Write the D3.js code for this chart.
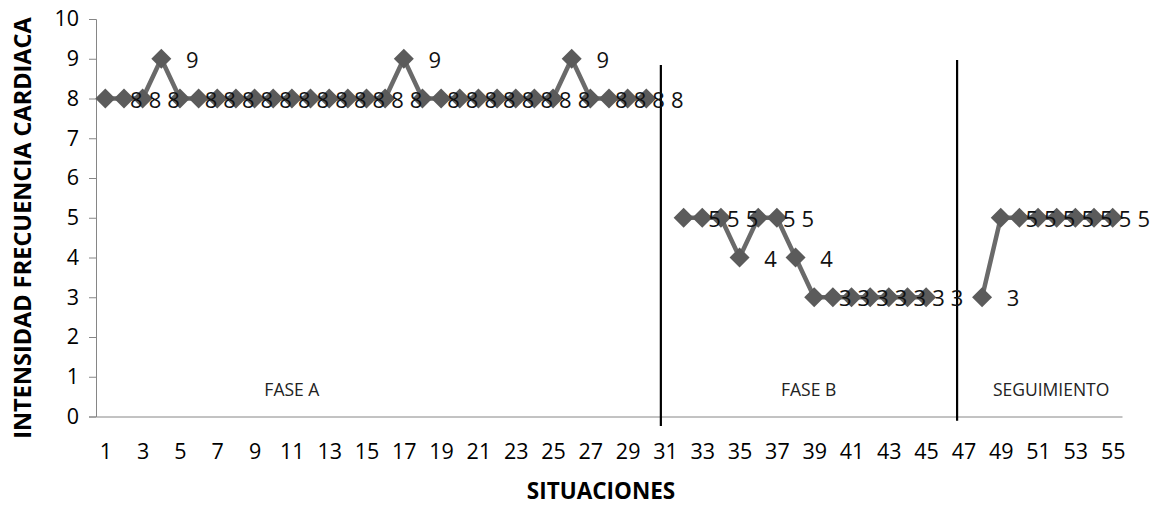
<!DOCTYPE html>
<html>
<head>
<meta charset="utf-8">
<script src="https://cdn.jsdelivr.net/npm/d3@7"></script>
<style>
  html, body { margin: 0; padding: 0; background: #fff; }
  svg { display: block; font-family: "Open Sans", "Liberation Sans", sans-serif; }
</style>
</head>
<body>
<svg id="chart" width="1150" height="506"></svg>
<script>
// Heart-rate intensity per situation, split into three phases
const situations = d3.range(1, 56);                 // x categories 1..55
const xTickLabels = situations.filter(d => d % 2 === 1);
const yTicks = [0, 1, 2, 3, 4, 5, 6, 7, 8, 9, 10];

const faseAStart = 1;
const faseA = [8, 8, 8, 9, 8, 8, 8, 8, 8, 8, 8, 8, 8, 8, 8, 8, 9, 8, 8, 8, 8, 8, 8, 8, 8, 9, 8, 8, 8, 8];
const faseBStart = 32;
const faseB = [5, 5, 5, 4, 5, 5, 4, 3, 3, 3, 3, 3, 3, 3];
const seguimientoStart = 48;
const seguimiento = [3, 5, 5, 5, 5, 5, 5, 5];

const phaseNames = ["FASE A", "FASE B", "SEGUIMIENTO"];
const phaseNameAt = [11, 38.7, 51.7];                // situation under each phase name
const dividerAt = [30.78, 46.66];                   // phase change markers
const dividerTop = [8.84, 8.97];
const dividerBottom = [-0.24, -0.11];

const points = [
  ...faseA.map((v, i) => ({ x: faseAStart + i, v })),
  ...faseB.map((v, i) => ({ x: faseBStart + i, v })),
  ...seguimiento.map((v, i) => ({ x: seguimientoStart + i, v }))
];
const byX = new Map(points.map(p => [p.x, p.v]));
const lineData = situations.map(s => ({ x: s, v: byX.has(s) ? byX.get(s) : null }));

const svg = d3.select("#chart");
const plotLeft = 96, plotRight = 1122, plotTop = 19, plotBottom = 416.5;

const x = d3.scaleLinear().domain([0.5, 55.5]).range([plotLeft, plotRight]);
const y = d3.scaleLinear().domain([0, 10]).range([plotBottom, plotTop]);

// y axis
const yAxis = d3.axisLeft(y).tickValues(yTicks).tickSize(7).tickPadding(10).tickFormat(d3.format("d"));
const gy = svg.append("g").attr("transform", `translate(${plotLeft},0)`).call(yAxis);
gy.select(".domain").attr("stroke", "#868686").attr("stroke-width", 1);
gy.selectAll(".tick line").attr("stroke", "#868686");
gy.selectAll(".tick text").attr("font-size", 21.5).attr("fill", "#000")
  .attr("font-family", "'Open Sans', sans-serif");

// x axis (category labels, no tick marks)
const xAxis = d3.axisBottom(x).tickValues(xTickLabels).tickSize(0).tickPadding(27).tickFormat(d3.format("d"));
const gx = svg.append("g").attr("transform", `translate(0,${plotBottom})`).call(xAxis);
gx.select(".domain").attr("stroke", "#868686").attr("stroke-width", 1);
gx.selectAll(".tick text").attr("font-size", 21.5).attr("fill", "#000")
  .attr("font-family", "'Open Sans', sans-serif");

// phase dividers
svg.append("g").selectAll("line").data(dividerAt).join("line")
  .attr("x1", d => x(d)).attr("x2", d => x(d))
  .attr("y1", (d, i) => y(dividerTop[i])).attr("y2", (d, i) => y(dividerBottom[i]))
  .attr("stroke", "#000").attr("stroke-width", 2.2);

// phase names
svg.append("g").selectAll("text").data(phaseNames).join("text")
  .attr("x", (d, i) => x(phaseNameAt[i])).attr("y", y(0.7))
  .attr("text-anchor", "middle").attr("dominant-baseline", "central")
  .attr("font-size", 17.5).attr("fill", "#222")
  .text(d => d);

// series line, broken between phases
const line = d3.line().defined(d => d.v !== null).x(d => x(d.x)).y(d => y(d.v));
svg.append("path").datum(lineData)
  .attr("d", line).attr("fill", "none")
  .attr("stroke", "#6a6a6a").attr("stroke-width", 4.5).attr("stroke-linejoin", "round");

// diamond markers
const diamond = d3.symbol().type(d3.symbolSquare).size(200);
svg.append("g").selectAll("path").data(points).join("path")
  .attr("d", diamond)
  .attr("transform", d => `translate(${x(d.x)},${y(d.v)}) rotate(45)`)
  .attr("fill", "#5b5b5b");

// value labels to the right of each marker
svg.append("g").selectAll("text").data(points).join("text")
  .attr("x", d => x(d.x) + 31).attr("y", d => y(d.v))
  .attr("text-anchor", "middle").attr("dominant-baseline", "central")
  .attr("font-size", 22).attr("fill", "#111")
  .text(d => d.v);

// axis titles
svg.append("text").attr("x", 601).attr("y", 490)
  .attr("text-anchor", "middle").attr("dominant-baseline", "central")
  .attr("font-size", 22.5).attr("font-weight", "bold").attr("fill", "#000")
  .text("SITUACIONES");
svg.append("text")
  .attr("transform", `translate(22,${(22 + 434) / 2}) rotate(-90)`)
  .attr("text-anchor", "middle").attr("dominant-baseline", "central")
  .attr("font-size", 23.5).attr("font-weight", "bold").attr("fill", "#000")
  .text("INTENSIDAD FRECUENCIA CARDIACA");
</script>
</body>
</html>
